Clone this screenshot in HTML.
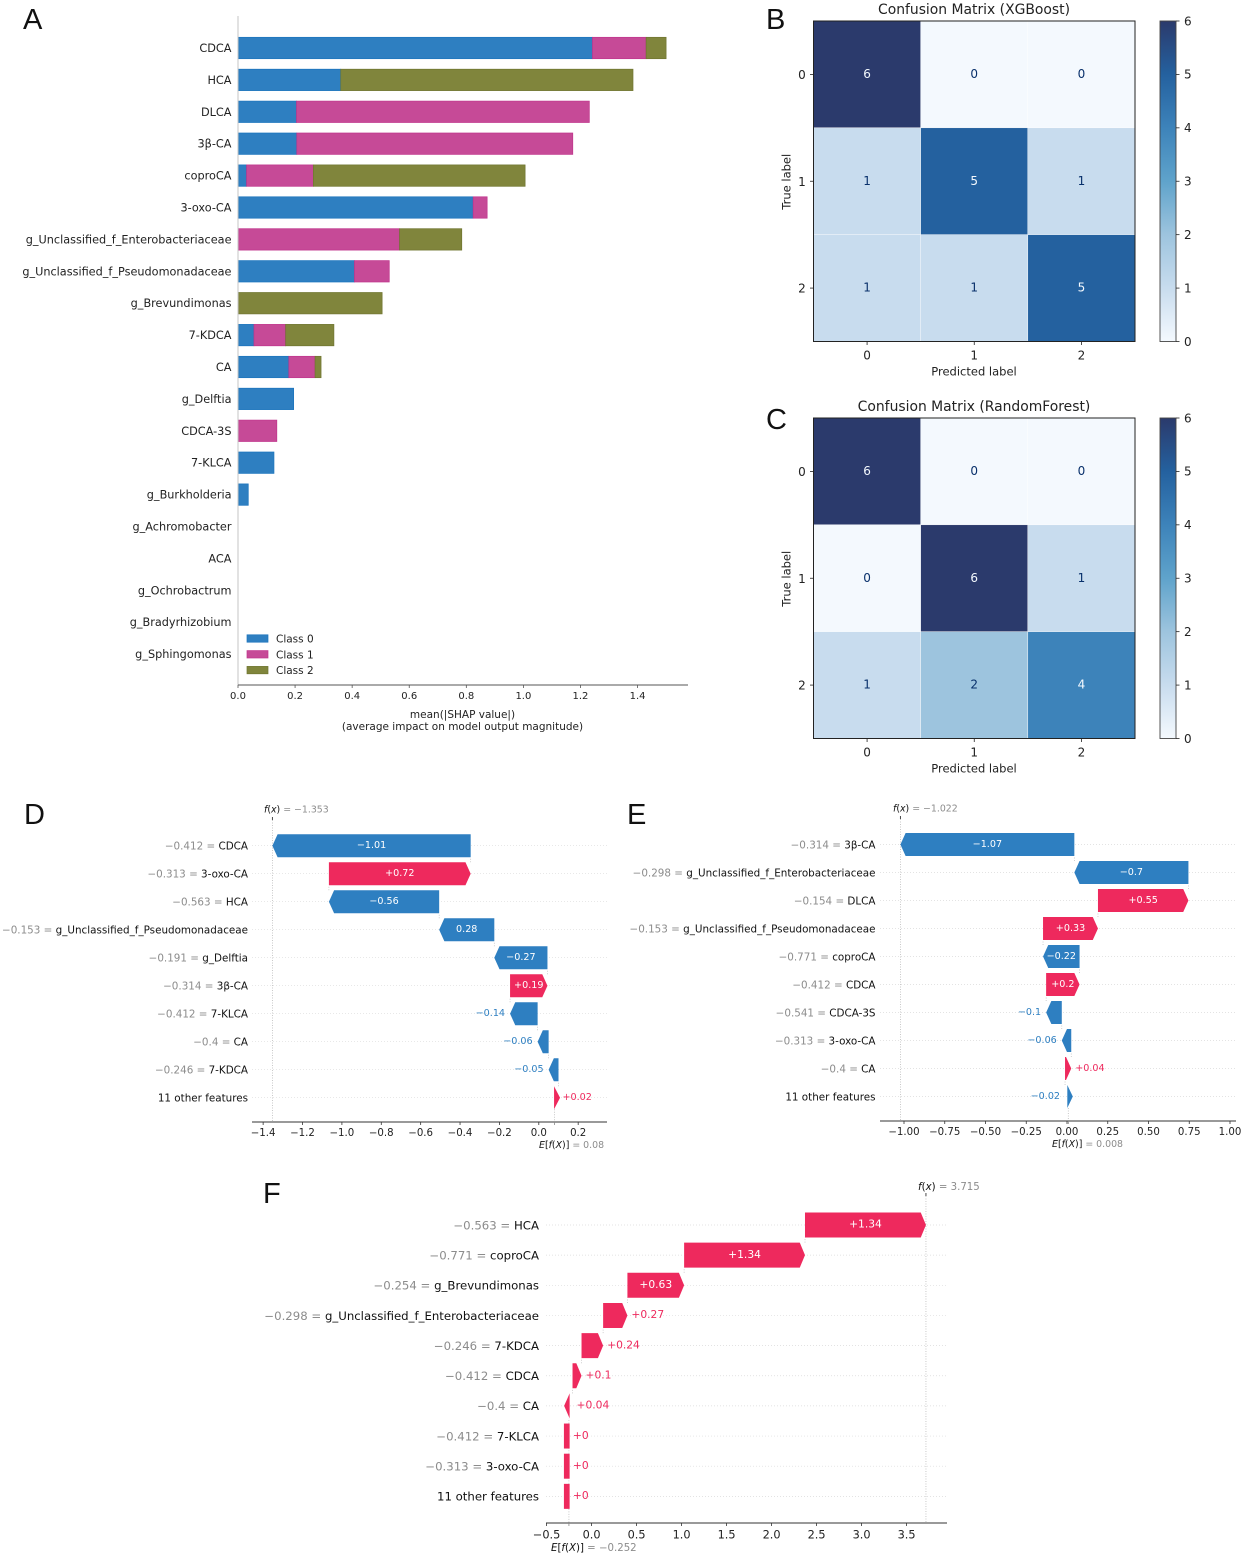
<!DOCTYPE html>
<html lang="en">
<head>
<meta charset="utf-8">
<title>SHAP importance, confusion matrices and waterfall plots</title>
<style>
html,body{margin:0;padding:0;background:#fff;}
svg{display:block;}
text{font-family:"DejaVu Sans","Liberation Sans",sans-serif;}
.panel-letter{font-family:"Liberation Sans",sans-serif;font-size:29px;fill:#111;}
</style>
</head>
<body>
<svg id="figure" xmlns="http://www.w3.org/2000/svg" width="1245" height="1555" viewBox="0 0 1245 1555">
<text class="panel-letter" x="23" y="29">A</text>
<text class="panel-letter" x="766" y="29">B</text>
<text class="panel-letter" x="766" y="429">C</text>
<text class="panel-letter" x="24" y="824">D</text>
<text class="panel-letter" x="627" y="824">E</text>
<text class="panel-letter" x="263" y="1203">F</text>
</svg>
<script>
// ---- Panel A data ----
const importanceFeatures = ["CDCA","HCA","DLCA","3β-CA","coproCA","3-oxo-CA","g_Unclassified_f_Enterobacteriaceae","g_Unclassified_f_Pseudomonadaceae","g_Brevundimonas","7-KDCA","CA","g_Delftia","CDCA-3S","7-KLCA","g_Burkholderia","g_Achromobacter","ACA","g_Ochrobactrum","g_Bradyrhizobium","g_Sphingomonas"];
const importanceClass0 = [1.242,0.36,0.205,0.206,0.03,0.824,0,0.408,0,0.056,0.178,0.195,0,0.126,0.036,0,0,0,0,0];
const importanceClass1 = [0.188,0,1.026,0.967,0.234,0.049,0.566,0.122,0,0.111,0.092,0,0.136,0,0,0,0,0,0,0];
const importanceClass2 = [0.07,1.024,0,0,0.742,0,0.218,0,0.505,0.169,0.021,0,0,0,0,0,0,0,0,0];
const importanceTicks = [0,0.2,0.4,0.6,0.8,1.0,1.2,1.4];
const classNames = ["Class 0","Class 1","Class 2"];

// ---- Panels B, C data ----
const matrixLabels = [0,1,2];
const colorbarTicks = [0,1,2,3,4,5,6];
const matrixXGBoost = [[6,0,0],[1,5,1],[1,1,5]];
const matrixRandomForest = [[6,0,0],[0,6,1],[1,2,4]];

// ---- Panel D data (top row first) ----
const dFeatures = ["CDCA","3-oxo-CA","HCA","g_Unclassified_f_Pseudomonadaceae","g_Delftia","3β-CA","7-KLCA","CA","7-KDCA","11 other features"];
const dFeatureValues = ["−0.412","−0.313","−0.563","−0.153","−0.191","−0.314","−0.412","−0.4","−0.246",""];
const dShap = [-1.007,0.72,-0.56,-0.28,-0.27,0.19,-0.14,-0.056,-0.05,0.02];
const dShapLabels = ["−1.01","+0.72","−0.56","0.28","−0.27","+0.19","−0.14","−0.06","−0.05","+0.02"];
const dBase = 0.08;
const dFx = -1.353;
const dTicks = [-1.4,-1.2,-1.0,-0.8,-0.6,-0.4,-0.2,0.0,0.2];
const dFxLabel = "−1.353";
const dBaseLabel = "0.08";

// ---- Panel E data ----
const eFeatures = ["3β-CA","g_Unclassified_f_Enterobacteriaceae","DLCA","g_Unclassified_f_Pseudomonadaceae","coproCA","CDCA","CDCA-3S","3-oxo-CA","CA","11 other features"];
const eFeatureValues = ["−0.314","−0.298","−0.154","−0.153","−0.771","−0.412","−0.541","−0.313","−0.4",""];
const eShap = [-1.067,-0.70,0.555,0.337,-0.224,0.205,-0.096,-0.058,0.038,-0.02];
const eShapLabels = ["−1.07","−0.7","+0.55","+0.33","−0.22","+0.2","−0.1","−0.06","+0.04","−0.02"];
const eBase = 0.008;
const eFx = -1.022;
const eTicks = [-1.0,-0.75,-0.5,-0.25,0,0.25,0.5,0.75,1.0];
const eFxLabel = "−1.022";
const eBaseLabel = "0.008";

// ---- Panel F data ----
const fFeatures = ["HCA","coproCA","g_Brevundimonas","g_Unclassified_f_Enterobacteriaceae","7-KDCA","CDCA","CA","7-KLCA","3-oxo-CA","11 other features"];
const fFeatureValues = ["−0.563","−0.771","−0.254","−0.298","−0.246","−0.412","−0.4","−0.412","−0.313",""];
const fShap = [1.344,1.343,0.63,0.27,0.24,0.1,0.04,0,0,0];
const fShapLabels = ["+1.34","+1.34","+0.63","+0.27","+0.24","+0.1","+0.04","+0","+0","+0"];
const fBase = -0.252;
const fFx = 3.715;
const fTicks = [-0.5,0,0.5,1,1.5,2,2.5,3,3.5];
const fFxLabel = "3.715";
const fBaseLabel = "−0.252";

const svg = document.getElementById('figure');
const NS = 'http://www.w3.org/2000/svg';
function mk(tag, attrs, parent, txt){
  const e = document.createElementNS(NS, tag);
  for(const k in attrs) e.setAttribute(k, attrs[k]);
  if(txt !== undefined) e.textContent = txt;
  (parent || svg).appendChild(e);
  return e;
}
function group(parent){ return mk('g', {}, parent); }
function fmt(v, d){ return (v < 0 ? '−' : '') + Math.abs(v).toFixed(d); }
function slug(s){ return String(s).toLowerCase().replace(/[^a-z0-9]+/g, '-').replace(/^-|-$/g, ''); }

// ==================== Panel A ====================
(function(){
  const g = group();
  
  
  const x = v => 238 + v * 285.4;
  const y = i => 48 + i * 31.9;
  const seriesList = [importanceClass0, importanceClass1, importanceClass2];
  const fills = ['#2e7fc1', '#c64a97', '#80853c'];
  const edges = ['#1b74bd', '#c0348c', '#6f7530'];
  importanceFeatures.forEach((name, i) => {
    const t = mk('text', {x:231.5, y:y(i)+4, 'text-anchor':'end', 'font-size':11.27, fill:'#222'}, g, name);
    
    
    let cum = 0;
    seriesList.forEach((arr, s) => {
      const v = arr[i];
      if(v > 0){
        const r = mk('rect', {x:x(cum), y:y(i)-10.7, width:x(cum+v)-x(cum), height:21.4, fill:fills[s], stroke:edges[s], 'stroke-width':0.7}, g);
        
        
      }
      cum += v;
    });
  });
  const vl = mk('line', {x1:238, x2:238, y1:16, y2:685, stroke:'#c4c4c4', 'stroke-width':1}, g);
  
  
  const hl = mk('line', {x1:238, x2:688, y1:685, y2:685, stroke:'#555', 'stroke-width':1}, g);
  
  
  importanceTicks.forEach(v => {
    const tk = mk('line', {x1:x(v), x2:x(v), y1:685, y2:688, stroke:'#555', 'stroke-width':0.8}, g);
    
    
    const tl = mk('text', {x:x(v), y:699, 'text-anchor':'middle', 'font-size':10, fill:'#222'}, g, v.toFixed(1));
    
    
  });
  const a1 = mk('text', {x:462.5, y:718, 'text-anchor':'middle', 'font-size':10.5, fill:'#222'}, g, 'mean(|SHAP value|)');
  
  
  const a2 = mk('text', {x:462.5, y:730, 'text-anchor':'middle', 'font-size':10.5, fill:'#222'}, g, '(average impact on model output magnitude)');
  
  
  classNames.forEach((c, s) => {
    const ly = 638.5 + s * 15.8;
    const sw = mk('rect', {x:247, y:ly-3.7, width:21, height:7.4, fill:fills[s], stroke:edges[s], 'stroke-width':0.7}, g);
    
    
    const lt = mk('text', {x:276, y:ly+4, 'font-size':10.5, fill:'#222'}, g, c);
    
    
  });
})();

// ==================== Panels B, C ====================
const blueRamp = ['#f4f9fe','#c8dcee','#9dc4de','#5fa3cb','#3d83ba','#24619f','#2b3a6c'];
function rampColor(v){
  const i = Math.max(0, Math.min(5, Math.floor(v)));
  const f = v - i;
  const a = blueRamp[i], b = blueRamp[i+1];
  const c = [1,3,5].map(p => Math.round(parseInt(a.substr(p,2),16)*(1-f) + parseInt(b.substr(p,2),16)*f));
  return 'rgb(' + c.join(',') + ')';
}
const gradDefs = mk('defs', {});
const grad = mk('linearGradient', {id:'cbar', x1:0, x2:0, y1:1, y2:0}, gradDefs);
blueRamp.forEach((c, i) => { mk('stop', {offset:(i/6), 'stop-color':c}, grad); });

function drawMatrix(key, title, matrix, top){
  const g = group();
  
  
  const left = 813.5, size = 321.5, h = 320.5, cw = size/3, ch = h/3;
  const cx = i => left + (i + 0.5) * cw;
  const cy = i => top + (i + 0.5) * ch;
  const maxV = 6;
  matrix.forEach((row, r) => row.forEach((v, c) => {
    const cell = mk('rect', {x:left+c*cw, y:top+r*ch, width:cw, height:ch, fill:rampColor(v), stroke:'#fff', 'stroke-width':0.4}, g);
    
    
    const tx = mk('text', {x:cx(c), y:cy(r)+3.5, 'text-anchor':'middle', 'font-size':12, fill:v > maxV/2 ? '#f4f9fe' : '#08306b'}, g, String(v));
    
    
  }));
  const frame = mk('rect', {x:left, y:top, width:size, height:h, fill:'none', stroke:'#222', 'stroke-width':1}, g);
  
  
  const tt = mk('text', {x:974, y:top-7, 'text-anchor':'middle', 'font-size':13.9, fill:'#222'}, g, title);
  
  
  matrixLabels.forEach(i => {
    const t1 = mk('line', {x1:cx(i), x2:cx(i), y1:top+h, y2:top+h+3.5, stroke:'#222', 'stroke-width':0.8}, g);
    
    
    const l1 = mk('text', {x:cx(i), y:top+h+18, 'text-anchor':'middle', 'font-size':12, fill:'#222'}, g, String(i));
    
    
    const t2 = mk('line', {x1:left-3.5, x2:left, y1:cy(i), y2:cy(i), stroke:'#222', 'stroke-width':0.8}, g);
    
    
    const l2 = mk('text', {x:802, y:cy(i)+4.5, 'text-anchor':'middle', 'font-size':12, fill:'#222'}, g, String(i));
    
    
  });
  const xl = mk('text', {x:974, y:top+h+34, 'text-anchor':'middle', 'font-size':11.5, fill:'#222'}, g, 'Predicted label');
  
  
  const yl = mk('text', {x:0, y:0, 'text-anchor':'middle', 'font-size':11.5, fill:'#222', transform:'translate(790.5,' + (top+h/2+0.5) + ') rotate(-90)'}, g, 'True label');
  
  
  const cb = mk('rect', {x:1160, y:top, width:16, height:h, fill:'url(#cbar)', stroke:'#444', 'stroke-width':0.9}, g);
  
  
  colorbarTicks.forEach(v => {
    const ty = top + h - v / maxV * h;
    const ct = mk('line', {x1:1176, x2:1179.5, y1:ty, y2:ty, stroke:'#222', 'stroke-width':0.8}, g);
    
    
    const cl = mk('text', {x:1184, y:ty+4.3, 'font-size':12, fill:'#222'}, g, String(v));
    
    
  });
}
drawMatrix('xgboost', 'Confusion Matrix (XGBoost)', matrixXGBoost, 21);
drawMatrix('randomforest', 'Confusion Matrix (RandomForest)', matrixRandomForest, 418);

// ==================== Waterfalls D, E, F ====================
function drawWaterfall(o){
  const g = group();
  
  
  const x = v => o.zero + v * o.scale;
  const y = i => o.firstRow + i * o.rowGap;
  const n = o.shap.length;
  const BLUE = '#2e7fc1', PINK = '#ee295d';
  const hh = o.barH / 2;
  // horizontal row guides
  o.shap.forEach((v, i) => {
    const gl = mk('line', {x1:o.axisL, x2:o.axisR, y1:y(i), y2:y(i), stroke:'#dadada', 'stroke-width':0.7, 'stroke-dasharray':'1 2'}, g);
    
    
  });
  // reference lines
  const fxLine = mk('line', {x1:x(o.fx), x2:x(o.fx), y1:o.topLine, y2:o.axisY, stroke:'#bbb', 'stroke-width':0.8, 'stroke-dasharray':'1 1.5'}, g);
  
  
  const fxTick = mk('line', {x1:x(o.fx), x2:x(o.fx), y1:o.topLine-3, y2:o.topLine, stroke:'#333', 'stroke-width':0.9}, g);
  
  
  const baseLine = mk('line', {x1:x(o.base), x2:x(o.base), y1:y(n-1)+hh, y2:o.axisY, stroke:'#bbb', 'stroke-width':0.8, 'stroke-dasharray':'1 1.5'}, g);
  
  
  // bars from bottom row upward
  let cum = o.base;
  for(let i = n - 1; i >= 0; i--){
    const v = o.shap[i];
    const start = x(cum);
    const end = x(cum + v);
    const w = Math.abs(end - start);
    const dir = v >= 0 ? 1 : -1;
    const yc = y(i), t = yc - hh, b = yc + hh;
    let pts;
    const head = 5.2;
    if(v === 0){
      pts = [[start-5,t],[start+0.7,t],[start+0.7,b],[start-5,b]];
    } else if(w < 3.7){
      const root = dir > 0 ? start + 0.7 : start - 1;
      const tip = root - dir * 5.5;
      pts = [[root,t],[tip,yc],[root,b]];
    } else if(w <= head){
      const tip = start + dir * 5.5;
      pts = [[start-dir*0.5,t],[tip,yc],[start-dir*0.5,b]];
    } else {
      const shoulder = end - dir * head;
      pts = [[start,t],[shoulder,t],[end,yc],[shoulder,b],[start,b]];
    }
    const fill = v >= 0 ? PINK : BLUE;
    const bar = mk('polygon', {points:pts.map(p => p[0].toFixed(2) + ',' + p[1].toFixed(2)).join(' '), fill:fill}, g);
    
    
    // connector to next row up
    if(i > 0){
      const c = mk('line', {x1:end, x2:end, y1:yc-hh, y2:y(i-1)+hh, stroke:'#bbb', 'stroke-width':0.7, 'stroke-dasharray':'1 1.5'}, g);
      
      
    }
    // value label
    let lab;
    if(w > 30){
      lab = mk('text', {x:(start+end)/2, y:yc+o.valFs*0.35-1, 'text-anchor':'middle', 'font-size':o.valFs, fill:'#fff'}, g, o.labels[i]);
    } else if(dir > 0){
      lab = mk('text', {x:Math.max(end, start)+4, y:yc+o.valFs*0.35-1, 'text-anchor':'start', 'font-size':o.valFs, fill:PINK}, g, o.labels[i]);
    } else {
      lab = mk('text', {x:end-5, y:yc+o.valFs*0.35-1, 'text-anchor':'end', 'font-size':o.valFs, fill:BLUE}, g, o.labels[i]);
    }
    
    
    cum += v;
  }
  // feature labels
  o.features.forEach((name, i) => {
    const t = mk('text', {x:o.labelX, y:y(i)+o.fs*0.37, 'text-anchor':'end', 'font-size':o.fs, fill:'#111'}, g);
    if(o.values[i]){
      mk('tspan', {fill:'#8c8c8c'}, t, o.values[i] + ' = ');
    }
    mk('tspan', {}, t, name);
    
    
  });
  // axis
  const ax = mk('line', {x1:o.axisL, x2:o.axisR, y1:o.axisY, y2:o.axisY, stroke:'#333', 'stroke-width':1}, g);
  
  
  o.ticks.forEach(v => {
    const tk = mk('line', {x1:x(v), x2:x(v), y1:o.axisY, y2:o.axisY+3, stroke:'#333', 'stroke-width':0.8}, g);
    
    
    const tl = mk('text', {x:x(v), y:o.axisY+o.tickFs+4, 'text-anchor':'middle', 'font-size':o.tickFs, fill:'#222'}, g, fmt(v, o.tickDec));
    
    
  });
  const bt = mk('line', {x1:x(o.base), x2:x(o.base), y1:o.axisY, y2:o.axisY+3, stroke:'#888', 'stroke-width':0.8}, g);
  
  
  // f(x) annotation
  const fxT = mk('text', {x:o.fxTextX, y:o.fxTextY, 'font-size':o.annFs, fill:'#111'}, g);
  mk('tspan', {'font-style':'italic'}, fxT, 'f');
  mk('tspan', {}, fxT, '(');
  mk('tspan', {'font-style':'italic'}, fxT, 'x');
  mk('tspan', {}, fxT, ')');
  mk('tspan', {fill:'#8c8c8c'}, fxT, ' = ' + o.fxLabel);
  
  
  // E[f(X)] annotation
  const bT = mk('text', {x:o.baseTextX, y:o.baseTextY, 'font-size':o.annFs, fill:'#111'}, g);
  mk('tspan', {'font-style':'italic'}, bT, 'E');
  mk('tspan', {}, bT, '[');
  mk('tspan', {'font-style':'italic'}, bT, 'f');
  mk('tspan', {}, bT, '(');
  mk('tspan', {'font-style':'italic'}, bT, 'X');
  mk('tspan', {}, bT, ')]');
  mk('tspan', {fill:'#8c8c8c'}, bT, ' = ' + o.baseLabel);
  
  
}
drawWaterfall({key:'d', features:dFeatures, values:dFeatureValues, shap:dShap, labels:dShapLabels, base:dBase, fx:dFx, ticks:dTicks, fxLabel:dFxLabel, baseLabel:dBaseLabel,
  zero:538.8, scale:196.9, firstRow:845.7, rowGap:28, barH:23, labelX:248, axisL:252, axisR:607, axisY:1122, topLine:820, fs:10.37, valFs:9.6, tickFs:10.2, annFs:9.4, tickDec:1,
  fxTextX:264, fxTextY:812.5, baseTextX:539, baseTextY:1148});
drawWaterfall({key:'e', features:eFeatures, values:eFeatureValues, shap:eShap, labels:eShapLabels, base:eBase, fx:eFx, ticks:eTicks, fxLabel:eFxLabel, baseLabel:eBaseLabel,
  zero:1067, scale:163, firstRow:844.5, rowGap:28, barH:23, labelX:875.5, axisL:880, axisR:1236, axisY:1121, topLine:819, fs:10.37, valFs:9.6, tickFs:10.2, annFs:9.4, tickDec:2,
  fxTextX:893, fxTextY:811.5, baseTextX:1052, baseTextY:1147});
drawWaterfall({key:'f', features:fFeatures, values:fFeatureValues, shap:fShap, labels:fShapLabels, base:fBase, fx:fFx, ticks:fTicks, fxLabel:fFxLabel, baseLabel:fBaseLabel,
  zero:591.6, scale:90, firstRow:1225, rowGap:30.15, barH:25, labelX:539, axisL:546, axisR:947, axisY:1523, topLine:1196, fs:11.73, valFs:10.7, tickFs:11.3, annFs:10.2, tickDec:1,
  fxTextX:918, fxTextY:1190, baseTextX:551, baseTextY:1551});
</script>
</body>
</html>
